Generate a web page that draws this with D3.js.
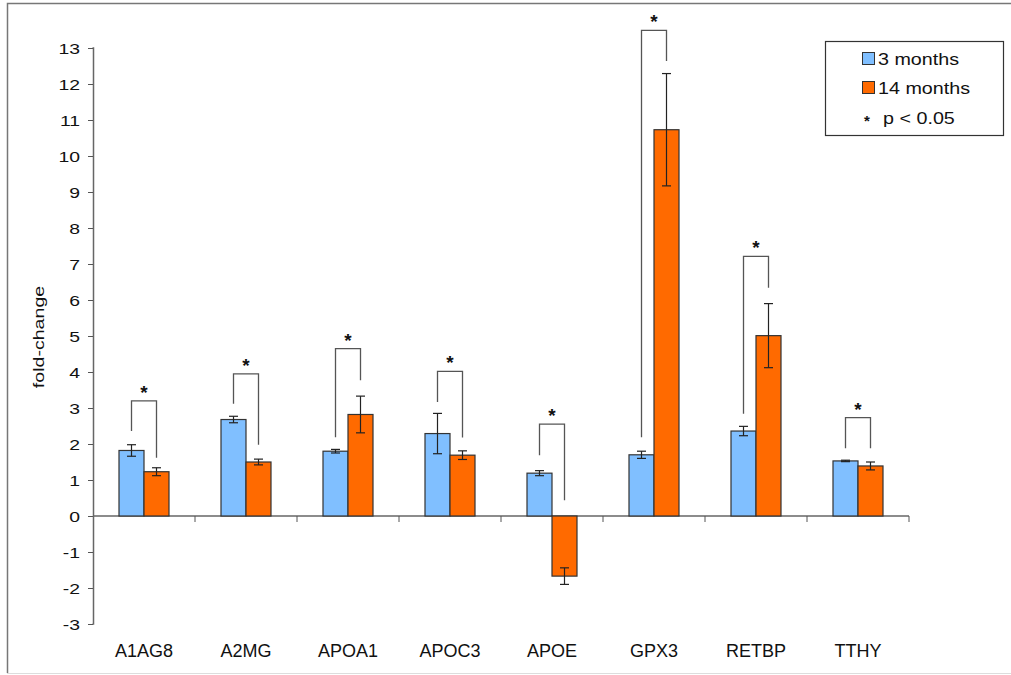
<!DOCTYPE html>
<html>
<head>
<meta charset="utf-8">
<script src="https://cdn.jsdelivr.net/npm/d3@7"></script>
<style>
  body { margin: 0; background: #fff; }
  text { font-family: "Liberation Sans", Arial, sans-serif; fill: #111; }
</style>
</head>
<body>
<div id="chart"></div>
<script>
// values
var proteins = ["A1AG8", "A2MG", "APOA1", "APOC3", "APOE", "GPX3", "RETBP", "TTHY"];
var series = ["3 months", "14 months"];
var months3 = [1.82, 2.68, 1.80, 2.29, 1.19, 1.70, 2.36, 1.53];
var months3Err = [0.16, 0.09, 0.05, 0.56, 0.07, 0.10, 0.13, 0.02];
var months14 = [1.23, 1.50, 2.82, 1.69, -1.67, 10.73, 5.01, 1.39];
var months14Err = [0.11, 0.08, 0.51, 0.12, 0.23, 1.56, 0.89, 0.11];
// significance brackets: top and the bottom of each leg
var bracketTop = [3.20, 3.95, 4.65, 4.02, 2.55, 13.49, 7.21, 2.73];
var bracketLeft = [2.36, 3.12, 2.19, 3.17, 1.69, 2.19, 2.84, 1.88];
var bracketRight = [1.62, 1.98, 3.77, 2.18, 0.44, 12.64, 6.34, 1.88];
var yTicks = d3.range(-3, 14);

var width = 1011, height = 675;
var colors = ["#80bfff", "#ff6a00"];

var svg = d3.select("#chart").append("svg")
  .attr("width", width)
  .attr("height", height);

// frame
svg.append("path")
  .attr("d", "M1011,3.5 H7.5 V673")
  .attr("fill", "none").attr("stroke", "#777").attr("stroke-width", 1.5);
svg.append("line")
  .attr("x1", 7).attr("x2", 1011).attr("y1", 673.5).attr("y2", 673.5)
  .attr("stroke", "#ddd");

var x = d3.scaleBand().domain(proteins).range([93, 909]);
var y = d3.scaleLinear().domain([-3, 13]).range([624, 48]);
var barW = 25;

// text drawn a bit wider than the font, like the original figure
function label(g, tx, ty, str, anchor, size, stretch, rot) {
  return g.append("text")
    .attr("transform", "translate(" + tx + "," + ty + ")" + (rot ? " rotate(" + rot + ")" : "") + " scale(" + stretch + ",1)")
    .attr("text-anchor", anchor)
    .style("font-size", size + "px")
    .text(str);
}

// y axis
var yAxis = svg.append("g").attr("transform", "translate(93,0)")
  .call(d3.axisLeft(y).tickValues(yTicks).tickSize(5).tickFormat(d3.format("d")));
yAxis.select(".domain").attr("stroke", "#666").attr("stroke-width", 1.5).attr("d", "M-0.5," + y(13) + "H0.5V" + y(-3) + "H-0.5");
yAxis.selectAll(".tick line").attr("stroke", "#555");
yAxis.selectAll(".tick text").remove();
yTicks.forEach(function(t) {
  label(svg, 80, y(t) + 5.5, t, "end", 15.5, 1.25);
});

label(svg, 44, 337, "fold-change", "middle", 14, 1.4, -90);

// x axis line at zero with category ticks
var bounds = proteins.map(function(p) { return x(p) + x.bandwidth(); });
svg.append("line")
  .attr("x1", 93).attr("x2", 909).attr("y1", y(0)).attr("y2", y(0))
  .attr("stroke", "#666").attr("stroke-width", 1.5);
svg.selectAll(".xtick").data(bounds).enter().append("line")
  .attr("class", "xtick")
  .attr("x1", function(d) { return d; }).attr("x2", function(d) { return d; })
  .attr("y1", y(0)).attr("y2", y(0) + 6)
  .attr("stroke", "#555");
proteins.forEach(function(p) {
  label(svg, x(p) + x.bandwidth() / 2, 657, p, "middle", 18, 1.0);
});

// bars
var rows = proteins.map(function(p, i) {
  return [
    { p: p, k: 0, v: months3[i], e: months3Err[i] },
    { p: p, k: 1, v: months14[i], e: months14Err[i] }
  ];
});
var flat = [].concat.apply([], rows);
function bx(d) { return x(d.p) + x.bandwidth() / 2 + (d.k - 1) * barW; }

svg.selectAll(".bar").data(flat).enter().append("rect")
  .attr("class", "bar")
  .attr("x", bx)
  .attr("width", barW)
  .attr("y", function(d) { return y(Math.max(0, d.v)); })
  .attr("height", function(d) { return Math.abs(y(d.v) - y(0)); })
  .attr("fill", function(d) { return colors[d.k]; })
  .attr("stroke", "#333").attr("stroke-width", 1.2);

// error bars
var eb = svg.selectAll(".err").data(flat).enter().append("g").attr("class", "err")
  .attr("stroke", "#222").attr("stroke-width", 1.2);
eb.append("line")
  .attr("x1", function(d) { return bx(d) + barW / 2; })
  .attr("x2", function(d) { return bx(d) + barW / 2; })
  .attr("y1", function(d) { return y(d.v + d.e); })
  .attr("y2", function(d) { return y(d.v - d.e); });
[1, -1].forEach(function(s) {
  eb.append("line")
    .attr("x1", function(d) { return bx(d) + barW / 2 - 4.5; })
    .attr("x2", function(d) { return bx(d) + barW / 2 + 4.5; })
    .attr("y1", function(d) { return y(d.v + s * d.e); })
    .attr("y2", function(d) { return y(d.v + s * d.e); });
});

// significance brackets
proteins.forEach(function(p, i) {
  var cx = x(p) + x.bandwidth() / 2;
  var lx = cx - barW / 2, rx = cx + barW / 2;
  svg.append("path")
    .attr("d", "M" + lx + "," + y(bracketLeft[i]) + "V" + y(bracketTop[i]) + "H" + rx + "V" + y(bracketRight[i]))
    .attr("fill", "none").attr("stroke", "#555").attr("stroke-width", 1.3);
  svg.append("text")
    .attr("x", cx).attr("y", y(bracketTop[i]) - 2)
    .attr("text-anchor", "middle")
    .style("font-size", "19px").style("font-weight", "bold")
    .text("*");
});

// legend
var lg = svg.append("g");
lg.append("rect")
  .attr("x", 825.5).attr("y", 41.5).attr("width", 178).attr("height", 94)
  .attr("fill", "#fff").attr("stroke", "#333").attr("stroke-width", 1.2);
series.forEach(function(s, i) {
  lg.append("rect")
    .attr("x", 862.5).attr("y", 52.5 + i * 29).attr("width", 12).attr("height", 12)
    .attr("fill", colors[i]).attr("stroke", "#333");
  label(lg, 878, 64.5 + i * 29, s, "start", 17, 1.16);
});
lg.append("text").attr("x", 867).attr("y", 126).attr("text-anchor", "middle")
  .style("font-size", "15px").style("font-weight", "bold").text("*");
label(lg, 883, 123.5, "p < 0.05", "start", 17, 1.16);
</script>
</body>
</html>
